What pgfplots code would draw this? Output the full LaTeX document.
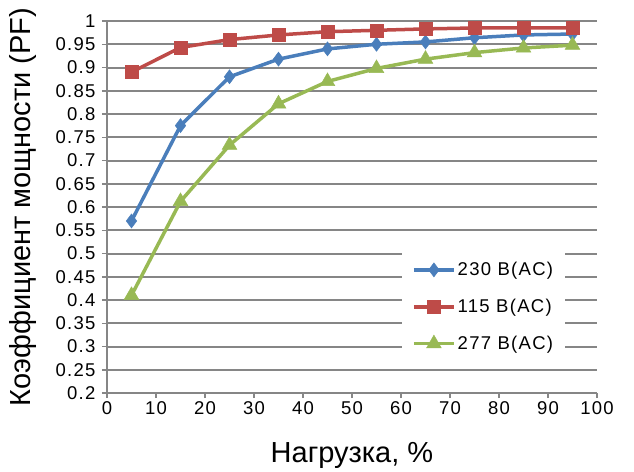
\documentclass[border=0pt]{standalone}
\usepackage{fontspec}
\setmainfont{Liberation Sans}
\newfontfamily\tickfont{Liberation Sans}[LetterSpace=7]
\usepackage{pgfplots}
\pgfplotsset{compat=1.18}
\definecolor{cblue}{HTML}{4A7EBB}
\definecolor{cred}{HTML}{BE4B48}
\definecolor{cgreen}{HTML}{98B954}
\definecolor{cgrid}{HTML}{868686}
\begin{document}
\begin{tikzpicture}
\begin{axis}[scale only axis, width=490pt, height=372pt,
  xmin=0, xmax=100, ymin=0.2, ymax=1,
  xtick={0,10,20,30,40,50,60,70,80,90,100},
  ytick={0.2,0.25,0.3,0.35,0.4,0.45,0.5,0.55,0.6,0.65,0.7,0.75,0.8,0.85,0.9,0.95,1},
  axis x line*=bottom, axis y line*=left,
  axis line style={cgrid, line width=1.5pt},
  ymajorgrids, grid style={cgrid, line width=2pt},
  tick style={cgrid, line width=1.5pt}, tick align=outside, major tick length=5pt,
  ticklabel style={font=\tickfont\fontsize{18.5}{21}\selectfont},
  yticklabel style={xshift=-3pt},
  /pgf/number format/assume math mode=true,
  yticklabel style={/pgf/number format/fixed, /pgf/number format/precision=2},
  xlabel={Нагрузка, \%}, ylabel={Коэффициент мощности (PF)},
  label style={font=\fontsize{29}{33}\selectfont},
  xlabel style={yshift=-21pt},
  ylabel style={yshift=12pt},
  legend style={at={(0.602,0.40)}, anchor=north west, fill=white, draw=none,
    font=\tickfont\fontsize{18.5}{21}\selectfont, row sep=18pt, inner xsep=10pt, inner ysep=16pt},
  legend cell align=left,
  legend image code/.code={\draw[mark repeat=2,mark phase=2] plot coordinates {(0pt,0pt)(20pt,0pt)(40pt,0pt)};},
  clip=false,
]
\addplot[cblue, line width=3.5pt, mark=diamond*, mark size=7pt, mark options={solid, line width=0.5pt}] coordinates {
(5,0.57) (15,0.775) (25,0.88) (35,0.918) (45,0.94) (55,0.95) (65,0.955) (75,0.964) (85,0.97) (95,0.972)};
\addlegendentry{230 В(AC)}
\addplot[cred, line width=3.5pt, mark=square*, mark size=6.5pt, mark options={solid, line width=0.5pt}] coordinates {
(5,0.89) (15,0.943) (25,0.96) (35,0.97) (45,0.977) (55,0.98) (65,0.983) (75,0.985) (85,0.985) (95,0.985)};
\addlegendentry{115 В(AC)}
\addplot[cgreen, line width=3.5pt, mark=triangle*, mark size=8.5pt, mark options={solid, line width=0.5pt}] coordinates {
(5,0.41) (15,0.612) (25,0.733) (35,0.822) (45,0.87) (55,0.898) (65,0.918) (75,0.932) (85,0.942) (95,0.948)};
\addlegendentry{277 В(AC)}
\end{axis}
\path[use as bounding box] (current axis.south west) ++(-107pt,-76pt) rectangle ++(634pt,469pt);
\end{tikzpicture}
\end{document}
